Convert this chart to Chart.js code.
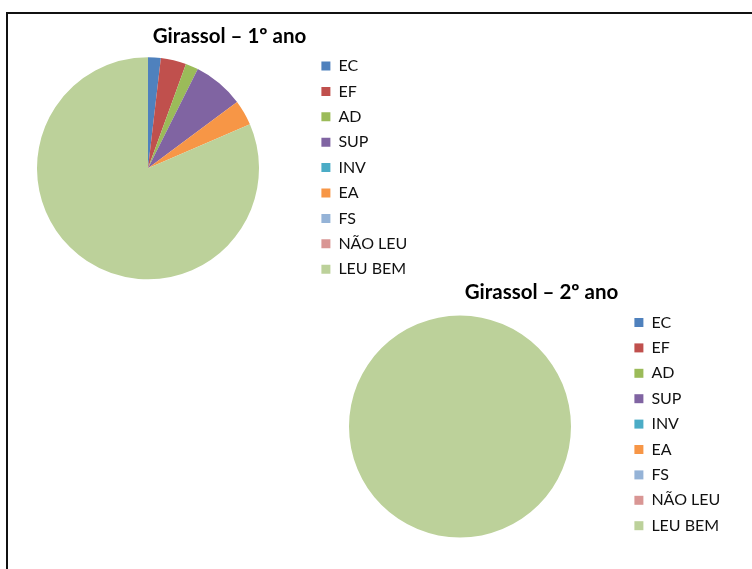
<!DOCTYPE html>
<html>
<head>
<meta charset="utf-8">
<script src="https://cdn.jsdelivr.net/npm/chart.js@4"></script>
<style>
  html, body { margin: 0; padding: 0; background: #fff; overflow: hidden; }
  body { width: 752px; height: 569px; position: relative; }
  #frame { position: absolute; left: 6px; top: 12px; width: 800px; height: 600px;
           border-top: 2px solid #111; border-left: 2px solid #111; }
  canvas { position: absolute; }
</style>
</head>
<body>
<div id="frame"></div>
<canvas id="chart1" width="491" height="274" style="left:-16px;top:14px"></canvas>
<canvas id="chart2" width="493" height="278" style="left:295px;top:270px"></canvas>
<script>
// DATA
const categories = ['EC', 'EF', 'AD', 'SUP', 'INV', 'EA', 'FS', 'NÃO LEU', 'LEU BEM'];
const values1 = [1, 2, 1, 4, 0, 2, 0, 0, 44];   // Girassol – 1º ano
const values2 = [0, 0, 0, 0, 0, 0, 0, 0, 30];   // Girassol – 2º ano
const title1 = 'Girassol – 1º ano';
const title2 = 'Girassol – 2º ano';

const sliceColors = ['#4F81BD', '#C0504D', '#9BBB59', '#8064A2', '#4BACC6',
                     '#F79646', '#95B3D7', '#D99694', '#BCD19A'];

// legend gets a fixed width so the pie and title sit where they should
const legendWidth = {
    id: 'legendWidth',
    beforeLayout(chart, args, opts) {
        const lg = chart.legend;
        if (!lg || lg._fixedFit) return;
        const fit = lg.fit;
        lg.fit = function () {
            fit.call(this);
            this.width = opts.width;
        };
        lg._fixedFit = true;
    }
};

function makePie(id, title, values, titlePad) {
    const ctx = document.getElementById(id).getContext('2d');
    return new Chart(ctx, {
        type: 'pie',
        data: {
            labels: categories,
            datasets: [{
                data: values,
                backgroundColor: sliceColors,
                borderWidth: 0,
                radius: 111
            }]
        },
        plugins: [legendWidth],
        options: {
            responsive: false,
            animation: false,
            layout: { padding: 0 },
            plugins: {
                legendWidth: { width: 163 },
                title: {
                    display: true,
                    text: title,
                    color: '#000',
                    font: { family: 'Lato', size: 20.5, weight: 'bold', lineHeight: 1.2 },
                    padding: titlePad
                },
                legend: {
                    position: 'right',
                    align: 'start',
                    fullSize: false,
                    labels: {
                        boxWidth: 9,
                        boxHeight: 9,
                        padding: 9.4,
                        color: '#111',
                        font: { family: 'Lato', size: 16 }
                    }
                },
                tooltip: { enabled: false }
            }
        }
    });
}

makePie('chart1', title1, values1, { top: 9.7, bottom: 0.3 });
makePie('chart2', title2, values2, { top: 10.5, bottom: 0 });
</script>
</body>
</html>
